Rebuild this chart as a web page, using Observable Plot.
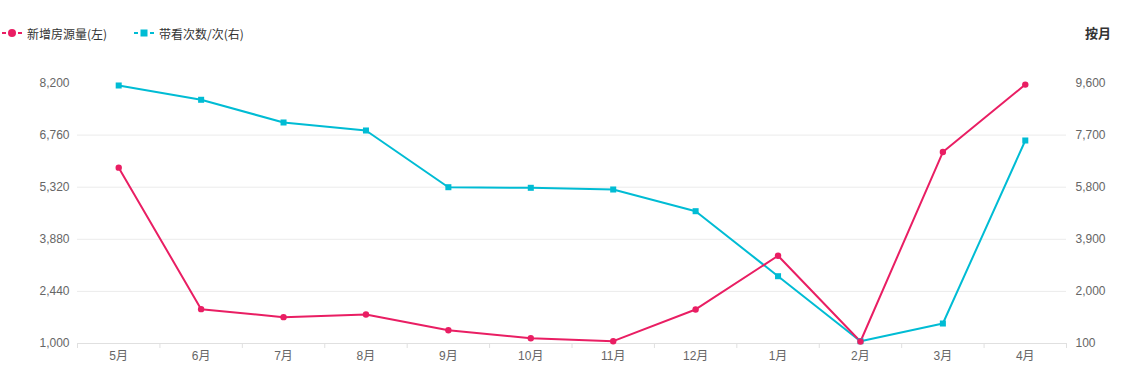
<!DOCTYPE html>
<html>
<head>
<meta charset="utf-8">
<script src="https://cdn.jsdelivr.net/npm/d3@7"></script>
<script src="https://cdn.jsdelivr.net/npm/@observablehq/plot@0.6"></script>
<style>
  body { margin: 0; background: #fff; font-family: "Liberation Sans", "Noto Sans CJK SC", sans-serif; }
  #wrap { position: relative; width: 1123px; height: 380px; overflow: hidden; }
  #legend { position: relative; height: 50px; width: 1123px; font-family: "Noto Sans CJK SC", sans-serif; font-size: 12px; color: #333; }
  .item { position: absolute; top: 24px; display: flex; align-items: center; height: 18px; }
  .item svg { margin-right: 5px; }
  #unit { position: absolute; right: 12px; top: 23px; font-size: 13px; font-weight: bold; color: #333; font-family: "Noto Sans CJK SC", sans-serif; }
</style>
</head>
<body>
<div id="wrap">
  <div id="legend"></div>
  <div id="chart"></div>
</div>
<script>
const months = ["5月","6月","7月","8月","9月","10月","11月","12月","1月","2月","3月","4月"];
const newListings = [5860, 1949, 1728, 1802, 1368, 1147, 1064, 1941, 3426, 1055, 6292, 8156];
const viewings = [9509, 8988, 8160, 7868, 5800, 5778, 5716, 4925, 2554, 184, 829, 7503];
const leftTicks = [1000, 2440, 3880, 5320, 6760, 8200];
const rightTicks = [100, 2000, 3900, 5800, 7700, 9600];
const seriesNames = ["新增房源量(左)", "带看次数/次(右)"];
const colors = ["#e91e63", "#00bcd4"];
const unitLabel = "按月";

// legend
const legend = document.getElementById("legend");
const lefts = [2, 134];
seriesNames.forEach((name, i) => {
  const el = document.createElement("div");
  el.className = "item";
  el.style.left = lefts[i] + "px";
  const marker = i === 0
    ? `<circle cx="10" cy="6" r="4" fill="${colors[i]}"/>`
    : `<rect x="6.5" y="2.5" width="7" height="7" fill="${colors[i]}"/>`;
  el.innerHTML = `<svg width="20" height="12"><line x1="0" x2="20" y1="6" y2="6" stroke="${colors[i]}" stroke-width="2" stroke-dasharray="4,12"/>${marker}</svg><span>${name}</span>`;
  legend.appendChild(el);
});
const unit = document.createElement("div");
unit.id = "unit";
unit.textContent = unitLabel;
legend.appendChild(unit);

// dual axis mapping: right values into left domain
const L0 = leftTicks[0], L1 = leftTicks[leftTicks.length - 1];
const R0 = rightTicks[0], R1 = rightTicks[rightTicks.length - 1];
const toLeft = v => L0 + (v - R0) * (L1 - L0) / (R1 - R0);
const toRight = v => R0 + (v - L0) * (R1 - R0) / (L1 - L0);

const data1 = months.map((m, i) => ({month: m, value: newListings[i]}));
const data2 = months.map((m, i) => ({month: m, value: toLeft(viewings[i])}));

const width = 1123, height = 330;
const marginLeft = 77, marginRight = 57, marginTop = 32.5, marginBottom = 37;
const step = (width - marginLeft - marginRight) / months.length;
const fmt = d3.format(",");

const chart = Plot.plot({
  width, height, marginLeft, marginRight, marginTop, marginBottom,
  style: {fontFamily: '"Liberation Sans", "Noto Sans CJK SC", sans-serif', fontSize: "12px", color: "#666", background: "#fff"},
  x: {type: "point", domain: months, padding: 0.5, round: false},
  y: {domain: [L0, L1]},
  marks: [
    Plot.gridY(leftTicks.slice(1, -1), {stroke: "#ebebeb", strokeOpacity: 1}),
    Plot.ruleY([L0], {stroke: "#e0e0e0"}),
    Plot.ruleX(months, {x: d => d, y1: L0, y2: L0, dx: -step / 2, insetBottom: -5, stroke: "#e0e0e0"}),
    Plot.ruleX(months.slice(-1), {x: d => d, y1: L0, y2: L0, dx: step / 2, insetBottom: -5, stroke: "#e0e0e0"}),
    Plot.axisX({tickSize: 0, tickPadding: 8, label: null, fill: "#666"}),
    Plot.axisY(leftTicks, {anchor: "left", tickSize: 0, tickPadding: 8, tickFormat: fmt, label: null, fill: "#666"}),
    Plot.axisY(rightTicks.map(toLeft), {anchor: "right", tickSize: 0, tickPadding: 9, tickFormat: d => fmt(Math.round(toRight(d))), label: null, fill: "#666"}),
    Plot.line(data2, {x: "month", y: "value", stroke: colors[1], strokeWidth: 2}),
    Plot.line(data1, {x: "month", y: "value", stroke: colors[0], strokeWidth: 2}),
    Plot.dot(data2, {x: "month", y: "value", symbol: "square", r: 3.4, fill: colors[1]}),
    Plot.dot(data1, {x: "month", y: "value", r: 3.2, fill: colors[0]})
  ]
});
document.getElementById("chart").appendChild(chart);
</script>
</body>
</html>
